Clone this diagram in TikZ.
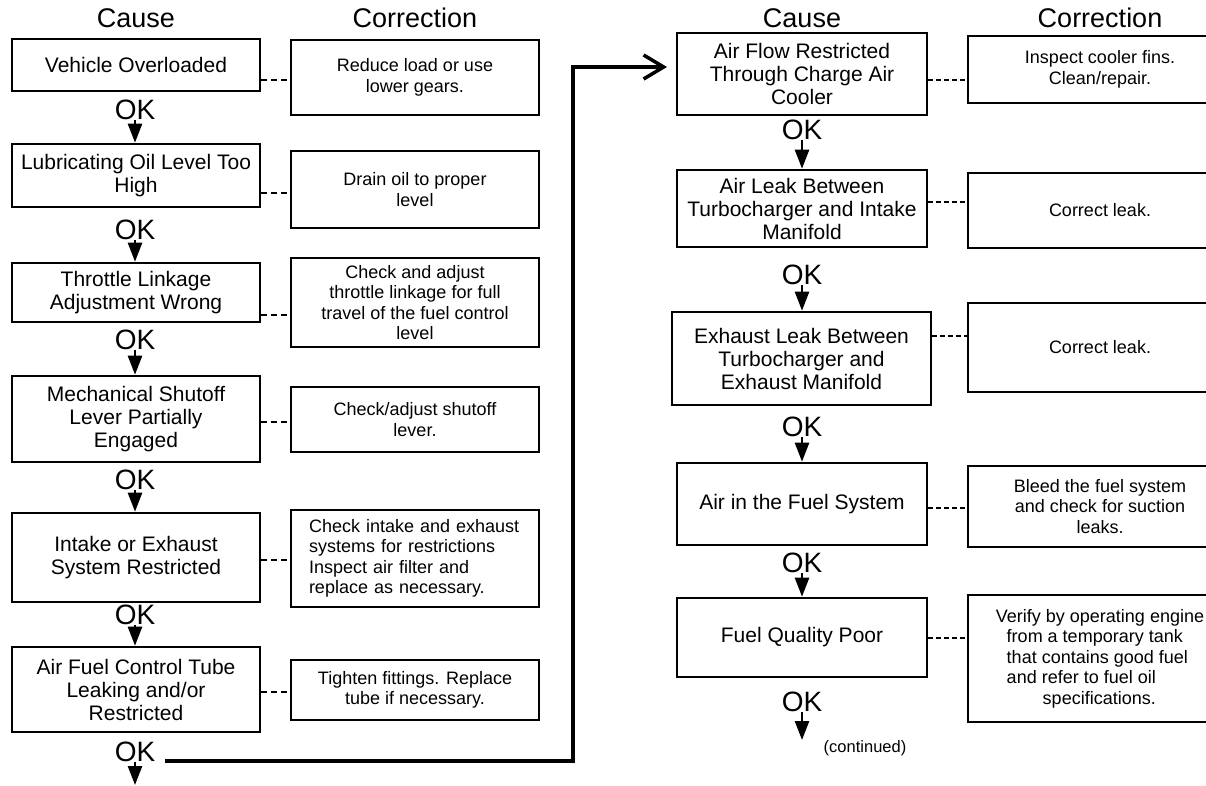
\documentclass[tikz,border=0pt]{standalone}
\usepackage{fontspec}
\setmainfont{Liberation Sans}
\usetikzlibrary{arrows.meta}
\tikzset{
  cbox/.style={draw, line width=2.6pt, align=center, inner sep=2pt,
    font=\fontsize{21}{23}\selectfont},
  kbox/.style={draw, line width=1.8pt, align=center, inner sep=2pt,
    font=\fontsize{18}{20.5}\selectfont},
  hdr/.style={font=\fontsize{27}{30}\selectfont, inner sep=0pt},
  oklab/.style={font=\fontsize{28}{30}\selectfont, inner sep=0pt},
  dl/.style={line width=1.5pt, dash pattern=on 6pt off 4pt},
  dr/.style={line width=1.5pt, dash pattern=on 5pt off 3pt},
  okarr/.style={line width=2.5pt, -{Triangle[length=19pt,width=14pt]}},
  bigline/.style={line width=3.5pt, -{Straight Barb[length=20pt,width=24pt]}},
}
\begin{document}
\begin{tikzpicture}[x=1pt,y=-1pt]
\clip (0,0) rectangle (1206,785);
\fill[white] (0,0) rectangle (1206,785);

% headers
\node[hdr] (h1) at (136,18) {Cause};
\node[hdr] (h2) at (415,18) {Correction};
\node[hdr] (h3) at (802,18) {Cause};
\node[hdr] (h4) at (1100,18) {Correction};

% ---------------- left column ----------------
\node[cbox, minimum width=248pt, minimum height=52pt] (b1) at (136,65) {Vehicle Overloaded};
\node[kbox, minimum width=248pt, minimum height=75pt] (c1) at (415,77.5) {Reduce load or use\\lower gears.};
\draw[dl] (b1.east |- 0,80) -- (c1.west |- 0,80);
\node[oklab] (ok1) at (135,110) {OK};

\node[cbox, minimum width=248pt, minimum height=63pt] (b2) at (136,175.5) {Lubricating Oil Level Too\\High};
\node[kbox, minimum width=248pt, minimum height=77pt] (c2) at (415,189.5) {Drain oil to proper\\level};
\draw[dl] (b2.east |- 0,193) -- (c2.west |- 0,193);
\node[oklab] (ok2) at (135,230) {OK};

\node[cbox, minimum width=248pt, minimum height=59pt] (b3) at (136,292.5) {Throttle Linkage\\Adjustment Wrong};
\node[kbox, minimum width=248pt, minimum height=89pt] (c3) at (415,302.5) {Check and adjust\\throttle linkage for full\\travel of the fuel control\\level};
\draw[dl] (b3.east |- 0,315) -- (c3.west |- 0,315);
\node[oklab] (ok3) at (135,340) {OK};

\node[cbox, minimum width=248pt, minimum height=86pt] (b4) at (136,419) {Mechanical Shutoff\\Lever Partially\\Engaged};
\node[kbox, minimum width=248pt, minimum height=65pt] (c4) at (415,419.5) {Check/adjust shutoff\\lever.};
\draw[dl] (b4.east |- 0,422) -- (c4.west |- 0,422);
\node[oklab] (ok4) at (135,480) {OK};

\node[cbox, minimum width=248pt, minimum height=89pt] (b5) at (136,557.5) {Intake or Exhaust\\System Restricted};
\node[kbox, align=left, minimum width=248pt, minimum height=97pt, text width=212pt] (c5) at (415,558.5) {Check intake and exhaust\\systems for restrictions\\Inspect air filter and\\replace as necessary.};
\draw[dl] (b5.east |- 0,560) -- (c5.west |- 0,560);
\node[oklab] (ok5) at (135,615) {OK};

\node[cbox, minimum width=248pt, minimum height=85pt] (b6) at (136,689.5) {Air Fuel Control Tube\\Leaking and/or\\Restricted};
\node[kbox, minimum width=248pt, minimum height=60pt] (c6) at (415,690) {Tighten fittings. Replace\\tube if necessary.};
\draw[dl] (b6.east |- 0,692) -- (c6.west |- 0,692);
\node[oklab] (ok6) at (135,752) {OK};
\coordinate (lend) at (135,785);

\draw[okarr] (ok1.south) -- (b2.north -| ok1.south);
\draw[okarr] (ok2.south) -- (b3.north -| ok2.south);
\draw[okarr] (ok3.south) -- (b4.north -| ok3.south);
\draw[okarr] (ok4.south) -- (b5.north -| ok4.south);
\draw[okarr] (ok5.south) -- (b6.north -| ok5.south);
\draw[okarr] (ok6.south) -- (lend);

% ---------------- right column ----------------
\node[cbox, minimum width=250pt, minimum height=82pt] (r1) at (802,74) {Air Flow Restricted\\Through Charge Air\\Cooler};
\node[kbox, minimum width=264pt, minimum height=67pt] (s1) at (1100,69.5) {Inspect cooler fins.\\Clean/repair.};
\draw[dr] (r1.east |- 0,80) -- (s1.west |- 0,80);
\node[oklab] (okr1) at (802,130) {OK};

\node[cbox, minimum width=250pt, minimum height=77pt] (r2) at (802,208.5) {Air Leak Between\\Turbocharger and Intake\\Manifold};
\node[kbox, minimum width=264pt, minimum height=75pt] (s2) at (1100,210.5) {Correct leak.};
\draw[dr] (r2.east |- 0,202) -- (s2.west |- 0,202);
\node[oklab] (okr2) at (802,275) {OK};

\node[cbox, minimum width=259pt, minimum height=93pt] (r3) at (801.5,358.5) {Exhaust Leak Between\\Turbocharger and\\Exhaust Manifold};
\node[kbox, minimum width=264pt, minimum height=89pt] (s3) at (1100,347.5) {Correct leak.};
\draw[dr] (r3.east |- 0,336) -- (s3.west |- 0,336);
\node[oklab] (okr3) at (802,427) {OK};

\node[cbox, minimum width=250pt, minimum height=82pt] (r4) at (802,504) {Air in the Fuel System};
\node[kbox, minimum width=264pt, minimum height=81pt] (s4) at (1100,506.5) {Bleed the fuel system\\and check for suction\\leaks.};
\draw[dr] (r4.east |- 0,508) -- (s4.west |- 0,508);
\node[oklab] (okr4) at (802,563) {OK};

\node[cbox, minimum width=250pt, minimum height=79pt] (r5) at (802,637.5) {Fuel Quality Poor};
\node[kbox, align=left, minimum width=264pt, minimum height=127pt] (s5) at (1100,658.5) {Verify by operating engine\\\hspace*{0.6em}from a temporary tank\\\hspace*{0.6em}that contains good fuel\\\hspace*{0.6em}and refer to fuel oil\\\hspace*{2.6em}specifications.};
\draw[dr] (r5.east |- 0,638) -- (s5.west |- 0,638);
\node[oklab] (okr5) at (802,702) {OK};
\coordinate (rend) at (802,740);
\node[font=\fontsize{16.5}{18}\selectfont, inner sep=0pt] (cont) at (865,748) {(continued)};

\draw[okarr] (okr1.south) -- (r2.north -| okr1.south);
\draw[okarr] (okr2.south) -- (r3.north -| okr2.south);
\draw[okarr] (okr3.south) -- (r4.north -| okr3.south);
\draw[okarr] (okr4.south) -- (r5.north -| okr4.south);
\draw[okarr] (okr5.south) -- (rend);

% long connector
\coordinate (ls) at (165,761);
\coordinate (lc1) at (573,761);
\coordinate (lc2) at (573,67);
\coordinate (ra) at (667,67);
\draw[bigline] (ls) -- (lc1) -- (lc2) -- (ra);
\end{tikzpicture}
\end{document}
